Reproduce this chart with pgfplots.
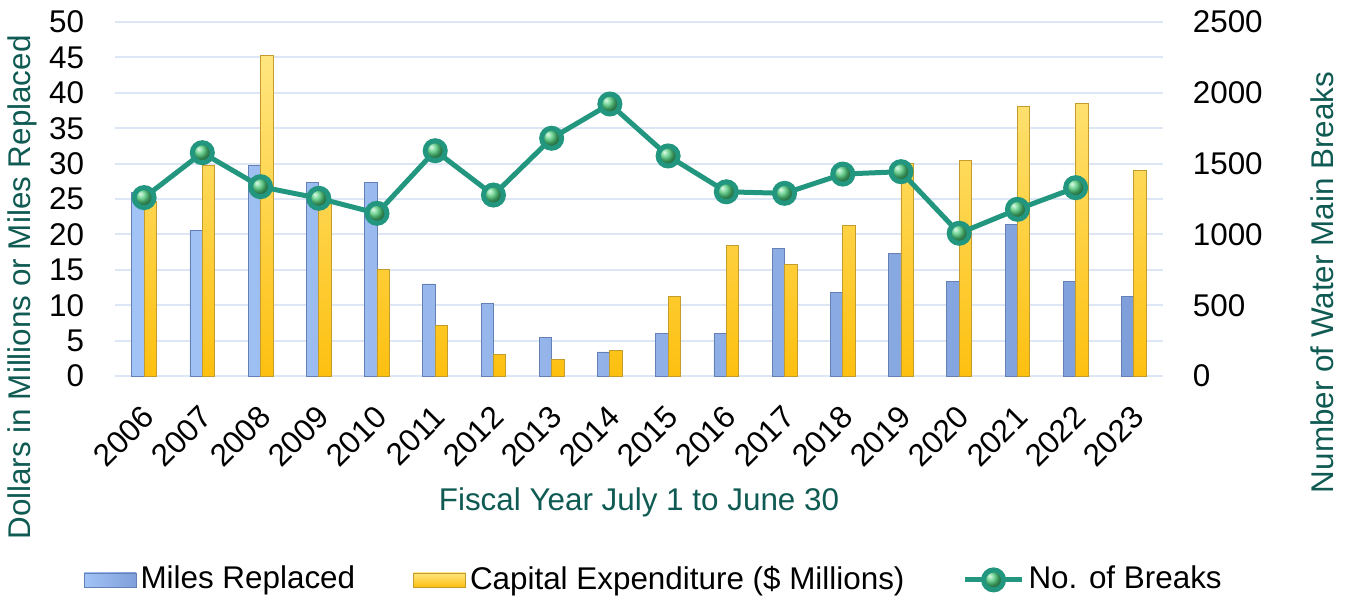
\documentclass[border=0pt]{standalone}
\usepackage{pgfplots}
\pgfplotsset{compat=1.18}
\usepackage{fontspec}
\setmainfont{Liberation Sans}
\definecolor{barblueL}{HTML}{A2C3F5}
\definecolor{barblueR}{HTML}{7F9FDB}
\definecolor{barblueD}{HTML}{6580B5}
\definecolor{baryelT}{HTML}{FFE680}
\definecolor{baryelB}{HTML}{FDC010}
\definecolor{baryelD}{HTML}{C49C2C}
\definecolor{linegreen}{HTML}{22967E}
\definecolor{markgreen}{HTML}{4CCB7A}
\definecolor{labelteal}{HTML}{0F5A52}
\definecolor{gridblue}{HTML}{DCE6F5}

\pgfplotstableread{
x miles cap
0 25.9 24.7
1 20.6 29.8
2 29.7 45.3
3 27.4 24.5
4 27.4 15.1
5 13.0 7.2
6 10.3 3.1
7 5.5 2.4
8 3.4 3.6
9 6.0 11.2
10 6.0 18.5
11 18.0 15.8
12 11.8 21.3
13 17.3 30.0
14 13.4 30.4
15 21.4 38.1
16 13.3 38.5
17 11.2 29.0
}\bardata

\pgfplotstableread{
x breaks
0 1260
1 1577
2 1337
3 1255
4 1149
5 1591
6 1278
7 1679
8 1921
9 1554
10 1301
11 1290
12 1426
13 1443
14 1008
15 1177
16 1330
}\linedata

\begin{document}
\fontsize{15.7}{19}\selectfont
\begin{tikzpicture}
\useasboundingbox (-57.5pt,-112pt) rectangle (615.5pt,188pt);
\begin{axis}[
  at={(0,0)}, anchor=south west,
  width=524pt, height=177pt, scale only axis,
  xmin=-0.5, xmax=17.5, ymin=0, ymax=50,
  ytick={0,5,...,50},
  xtick={0,...,17},
  xticklabels={2006,2007,2008,2009,2010,2011,2012,2013,2014,2015,2016,2017,2018,2019,2020,2021,2022,2023},
  xticklabel style={xshift=6pt, yshift=-14pt, rotate=45, anchor=east},
  yticklabel style={xshift=-10pt},
  /pgf/number format/assume math mode=true,
  ymajorgrids, grid style={gridblue, line width=1pt},
  axis line style={draw=none},
  major tick length=0pt,
  ybar=0pt, bar width=6.2pt,
  ylabel={Dollars in Millions or Miles Replaced},
  xlabel={Fiscal Year July 1 to June 30},
  every axis y label/.style={at={(axis description cs:-0.088,0.25)}, rotate=90, anchor=center, text=labelteal},
  every axis x label/.style={at={(axis description cs:0.5,-0.356)}, anchor=center, text=labelteal},
]
\addplot[draw=barblueD, left color=barblueL, right color=barblueR, line width=0.4pt] table[x=x, y=miles] {\bardata};
\addplot[draw=baryelD, top color=baryelT, bottom color=baryelB, line width=0.4pt] table[x=x, y=cap] {\bardata};
\end{axis}
\begin{axis}[
  at={(0,0)}, anchor=south west,
  width=524pt, height=177pt, scale only axis,
  xmin=-0.5, xmax=17.5, ymin=0, ymax=2500,
  ytick={0,500,...,2500},
  xtick=\empty,
  yticklabel pos=right,
  yticklabel style={xshift=9.5pt},
  /pgf/number format/assume math mode=true,
  /pgf/number format/1000 sep={},
  axis line style={draw=none},
  major tick length=0pt,
  ylabel={Number of Water Main Breaks},
  every axis y label/.style={at={(axis description cs:1.152,0.264)}, rotate=90, anchor=center, text=labelteal},
  legend columns=3,
  legend style={at={(axis description cs:0.515,-0.576)}, anchor=center, draw=none, fill=none,
    /tikz/every even column/.append style={column sep=27pt}},
  legend cell align=left,
]
\addlegendimage{legend image code/.code={\draw[draw=barblueD, left color=barblueL, right color=barblueR] (0pt,-3.5pt) rectangle (26pt,3.5pt);}}
\addlegendentry{Miles Replaced}
\addlegendimage{legend image code/.code={\draw[draw=baryelD, top color=baryelT, bottom color=baryelB] (0pt,-3.5pt) rectangle (26pt,3.5pt);}}
\addlegendentry{Capital Expenditure (\$ Millions)}
\addplot[color=linegreen, line width=2.5pt, mark=ball, mark size=5pt, mark options={ball color=markgreen},
  legend image code/.code={\draw[linegreen, line width=2.5pt] (0pt,0pt) -- (28.5pt,0pt); \shade[ball color=markgreen] (14.25pt,0pt) circle (5pt);}]
  table[x=x, y=breaks] {\linedata};
\addlegendentry{No. of Breaks}
\end{axis}
\end{tikzpicture}
\end{document}
